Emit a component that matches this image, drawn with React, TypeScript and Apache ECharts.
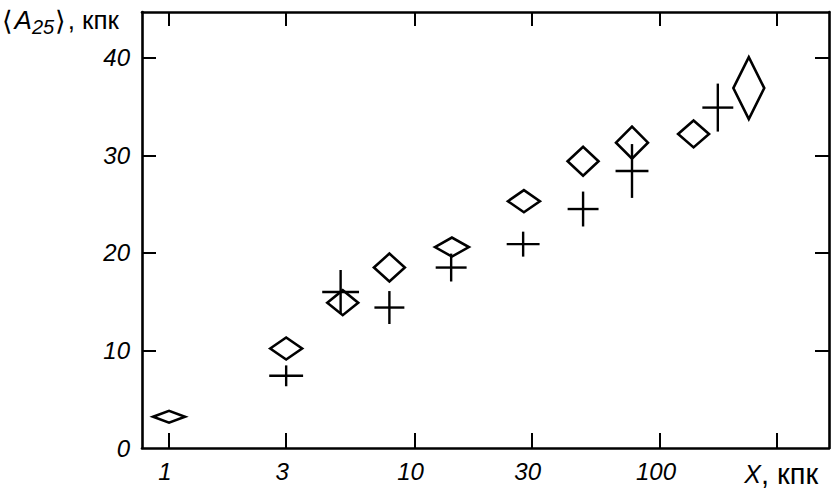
import React, { useEffect, useRef } from "react";
import * as echarts from "echarts";

// Diamonds: X (кпк), <A25> (кпк), half-width in decades, half-height in кпк
const diamondX = [1.0, 3.0, 5.1, 7.9, 14.2, 27.9, 48.6, 76.9, 137, 230];
const diamondY = [3.2, 10.2, 14.9, 18.5, 20.6, 25.3, 29.4, 31.3, 32.2, 36.9];
const diamondDX = [0.065, 0.065, 0.063, 0.063, 0.069, 0.065, 0.063, 0.065, 0.063, 0.063];
const diamondDY = [0.61, 1.13, 1.28, 1.43, 0.97, 1.13, 1.48, 1.64, 1.38, 3.17];

// Crosses
const crossX = [3.0, 5.0, 7.9, 14.1, 27.7, 48.6, 76.9, 172];
const crossY = [7.4, 16.0, 14.4, 18.5, 20.9, 24.5, 28.4, 34.9];
const crossDX = [0.069, 0.075, 0.061, 0.063, 0.067, 0.063, 0.067, 0.063];
const crossDY = [1.07, 2.25, 1.69, 1.43, 1.28, 1.79, 2.76, 2.46];

// Axes
const xTickValues = [1, 3, 10, 30, 100, 300];
const xLabelValues = [1, 3, 10, 30, 100, 300];
const xAxisTitleItalic = "X";
const xAxisTitleRest = ", кпк";
const yTickValues = [10, 20, 30, 40];
const yLabelValues = [0, 10, 20, 30, 40];
const xMin = 0.776;
const xMax = 488;
const yMin = 0;
const yMax = 44.7;

const FONT = "'Liberation Sans', 'DejaVu Sans', Arial, sans-serif";
const BRACKET_FONT = "'DejaVu Sans', 'Liberation Sans', sans-serif";

export default function App() {
  const ref = useRef<HTMLDivElement>(null);
  useEffect(() => {
    document.body.style.margin = "0";
    const chart = echarts.init(ref.current!, null, { renderer: "svg" });
    const lg = (v: number) => Math.log10(v);
    const diamonds = diamondX.map((x, i) => [lg(x), diamondY[i], diamondDX[i], diamondDY[i]]);
    const crosses = crossX.map((x, i) => [lg(x), crossY[i], crossDX[i], crossDY[i]]);
    const axisLine = { show: true, onZero: false, lineStyle: { color: "#000", width: 2.6 } };
    const xAxisBase = {
      type: "value" as const,
      min: lg(xMin),
      max: lg(xMax),
      splitLine: { show: false },
      axisLine,
    };
    const yAxisBase = {
      type: "value" as const,
      min: yMin,
      max: yMax,
      splitLine: { show: false },
      axisLine,
    };
    chart.setOption({
      animation: false,
      backgroundColor: "#fff",
      grid: { left: 142, right: 9, top: 12, bottom: 39, containLabel: false },
      xAxis: [
        {
          ...xAxisBase,
          position: "bottom",
          axisTick: {
            show: true,
            inside: true,
            length: 15,
            customValues: xTickValues.map(lg),
            lineStyle: { color: "#000", width: 2 },
          },
          axisLabel: {
            show: true,
            margin: 11,
            customValues: xLabelValues.map(lg),
            fontFamily: FONT,
            fontStyle: "italic",
            fontSize: 24,
            color: "#000",
            formatter: (v: number) => {
              const r = Math.round(Math.pow(10, v));
              if (r === 300) return `{i|${xAxisTitleItalic}}{r|${xAxisTitleRest}}`;
              return `{d|${r}}`;
            },
            rich: {
              d: { fontFamily: FONT, fontStyle: "italic", fontSize: 24, color: "#000", padding: [0, 8, 0, 0] },
              i: { fontFamily: FONT, fontStyle: "italic", fontSize: 25, color: "#000", padding: [0, 0, 0, 8] },
              r: { fontFamily: FONT, fontStyle: "normal", fontSize: 29, color: "#000" },
            },
          },
        },
        {
          ...xAxisBase,
          position: "top",
          axisTick: {
            show: true,
            inside: true,
            length: 14,
            customValues: xTickValues.map(lg),
            lineStyle: { color: "#000", width: 2 },
          },
          axisLabel: { show: false },
        },
      ],
      yAxis: [
        {
          ...yAxisBase,
          position: "left",
          axisTick: {
            show: true,
            inside: true,
            length: 14,
            customValues: yTickValues,
            lineStyle: { color: "#000", width: 2 },
          },
          axisLabel: {
            show: true,
            margin: 12,
            customValues: yLabelValues,
            fontFamily: FONT,
            fontStyle: "italic",
            fontSize: 24,
            color: "#000",
          },
        },
        {
          ...yAxisBase,
          position: "right",
          axisTick: {
            show: true,
            inside: true,
            length: 14,
            customValues: yTickValues,
            lineStyle: { color: "#000", width: 2 },
          },
          axisLabel: { show: false },
        },
      ],
      graphic: [
        {
          type: "text",
          left: 2,
          top: 3,
          style: {
            text: "{a|⟨}{i|A}{s|25}{a|⟩}{r|, кпк}",
            rich: {
              a: { fontFamily: BRACKET_FONT, fontSize: 27, color: "#000", lineHeight: 30, padding: [0, 2, 0, 0] },
              i: { fontFamily: FONT, fontStyle: "italic", fontSize: 26, color: "#000", lineHeight: 30 },
              s: {
                fontFamily: FONT,
                fontStyle: "italic",
                fontSize: 20,
                color: "#000",
                padding: [14, 1, 0, 0],
                lineHeight: 30,
              },
              r: { fontFamily: FONT, fontSize: 26, color: "#000", lineHeight: 30 },
            },
          },
        },
      ],
      series: [
        {
          type: "custom",
          name: "diamonds",
          xAxisIndex: 0,
          yAxisIndex: 0,
          clip: false,
          encode: { x: 0, y: 1 },
          data: diamonds,
          renderItem: (params: any, api: any) => {
            const x = api.value(0);
            const y = api.value(1);
            const dx = api.value(2);
            const dy = api.value(3);
            const l = api.coord([x - dx, y]);
            const r = api.coord([x + dx, y]);
            const t = api.coord([x, y + dy]);
            const b = api.coord([x, y - dy]);
            return {
              type: "polygon",
              shape: { points: [l, t, r, b] },
              style: { fill: "none", stroke: "#000", lineWidth: 2.6, lineJoin: "miter" },
            };
          },
        },
        {
          type: "custom",
          name: "crosses",
          xAxisIndex: 0,
          yAxisIndex: 0,
          clip: false,
          encode: { x: 0, y: 1 },
          data: crosses,
          renderItem: (params: any, api: any) => {
            const x = api.value(0);
            const y = api.value(1);
            const dx = api.value(2);
            const dy = api.value(3);
            const l = api.coord([x - dx, y]);
            const r = api.coord([x + dx, y]);
            const t = api.coord([x, y + dy]);
            const b = api.coord([x, y - dy]);
            const st = { stroke: "#000", lineWidth: 2.4 };
            return {
              type: "group",
              children: [
                { type: "line", shape: { x1: l[0], y1: l[1], x2: r[0], y2: r[1] }, style: st },
                { type: "line", shape: { x1: t[0], y1: t[1], x2: b[0], y2: b[1] }, style: st },
              ],
            };
          },
        },
      ],
    });
    return () => chart.dispose();
  }, []);
  return <div ref={ref} style={{ width: 838, height: 488 }} />;
}
